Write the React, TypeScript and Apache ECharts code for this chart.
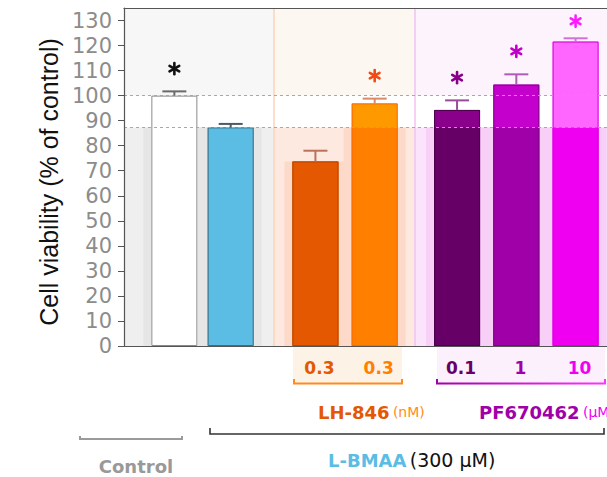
import React, { useEffect, useRef } from "react";
import * as echarts from "echarts";

// ---- data ----
const categories = ["Control", "L-BMAA", "LH-846 0.3 nM (a)", "LH-846 0.3 nM (b)", "PF670462 0.1 µM", "PF670462 1 µM", "PF670462 10 µM"];
const xPositions = [1, 1.95, 3.38, 4.38, 5.77, 6.77, 7.77];
const viability = [100, 87.3, 73.7, 96.9, 94.3, 104.4, 121.6];
const errorTop = [101.7, 88.7, 78.0, 98.8, 98.1, 108.5, 122.9];
const asteriskY: (number | null)[] = [110.8, null, null, 108.0, 107.2, 117.7, 129.7];
const doseLabels = ["", "", "0.3", "0.3", "0.1", "1", "10"];
const yTicks = [0, 10, 20, 30, 40, 50, 60, 70, 80, 90, 100, 110, 120, 130];
const controlLevel = 100;
const bmaaLevel = 87.3;
const groupBounds = [0.15, 2.667, 5.05, 8.3];
const yMax = 135;

// ---- styles ----
const groupOf = [0, 0, 1, 1, 2, 2, 2];
const lowerColors = ["#ffffff", "#5bbde4", "#e35800", "#ff8000", "#660066", "#a000a8", "#f000f0"];
const upperColors = ["#ffffff", "#5bbde4", "#e35800", "#ff9900", "#8b008b", "#c400cc", "#ff66ff"];
const borderColors = ["#8a8a8a", "#3b6f86", "#b84700", "#ff6a00", "#4a004a", "#800088", "#d400d8"];
const errorColors = ["#6a6a6a", "#4a5a66", "#b8735a", "#d98a66", "#9a4a9a", "#b05ab8", "#d070d8"];
const starColors = ["#111111", "", "", "#f24a14", "#880088", "#c000c8", "#ff1aff"];
const regionTop = ["#f7f7f7", "#fdf7f1", "#fdf3fd"];
const regionBottom = ["#efefef", "#fde9e0", "#fbe4fb"];
const bandColors = ["#e6e6e6", "#fdd9c9", "#f7cff7"];
const boundaryColors = ["#fbd3b8", "#efc3ef"];

const SANS = '"DejaVu Sans"';

export default function App() {
  const ref = useRef<HTMLDivElement>(null);
  useEffect(() => {
    if (!ref.current) return;
    const chart = echarts.init(ref.current, null, { renderer: "svg" });

    const barData = (vals: number[], colors: string[]) =>
      xPositions.map((x, i) => ({ value: [x, vals[i]], itemStyle: { color: colors[i] } }));

    const option: any = {
      animation: false,
      grid: { left: 124, top: 8, width: 489, height: 338, show: false },
      xAxis: [
        {
          type: "value", min: groupBounds[0], max: groupBounds[3], position: "bottom", z: 10,
          axisLine: { show: true, lineStyle: { color: "#555", width: 1.2 } },
          axisTick: { show: false }, axisLabel: { show: false }, splitLine: { show: false },
        },
        {
          type: "value", min: groupBounds[0], max: groupBounds[3], position: "top", z: 10,
          axisLine: { show: true, lineStyle: { color: "#555", width: 1.2 } },
          axisTick: { show: false }, axisLabel: { show: false }, splitLine: { show: false },
        },
      ],
      yAxis: {
        type: "value", min: 0, max: yMax, z: 10,
        name: "Cell viability (% of control)",
        nameLocation: "middle", nameGap: 62, nameRotate: 90,
        nameTextStyle: { fontSize: 25, color: "#111", fontFamily: '"Liberation Sans"', padding: [0, 10, 0, 0] },
        axisLine: { show: true, lineStyle: { color: "#555", width: 1.2 } },
        axisTick: { show: true, inside: false, length: 6, lineStyle: { color: "#555" }, customValues: yTicks },
        axisLabel: { show: true, customValues: yTicks, color: "#8c8c8c", fontSize: 21, fontFamily: SANS, margin: 12 },
        splitLine: { show: false },
      },
      series: [
        {
          name: "background", type: "line", data: [], z: 0, silent: true,
          markArea: {
            silent: true,
            data: [0, 1, 2].flatMap((g) => [
              [
                { xAxis: groupBounds[g], yAxis: controlLevel, itemStyle: { color: regionTop[g] } },
                { xAxis: groupBounds[g + 1], yAxis: yMax },
              ],
              [
                { xAxis: groupBounds[g], yAxis: 0, itemStyle: { color: regionBottom[g] } },
                { xAxis: groupBounds[g + 1], yAxis: bmaaLevel },
              ],
            ]),
          },
          markLine: {
            silent: true, symbol: "none", label: { show: false },
            data: [1, 2].map((g) => ({ xAxis: groupBounds[g], lineStyle: { color: boundaryColors[g - 1], width: 1.5, type: "solid" } })),
          },
        },
        {
          name: "bands", type: "custom", z: 1, silent: true,
          data: xPositions.map((x, i) => [x, Math.min(viability[i], bmaaLevel)]),
          renderItem: (params: any, api: any) => {
            const i = params.dataIndex;
            const top = api.coord([api.value(0), api.value(1)]);
            const base = api.coord([api.value(0), 0]);
            return {
              type: "rect",
              shape: { x: top[0] - 31, y: top[1], width: 62, height: base[1] - top[1] },
              style: { fill: bandColors[groupOf[i]] },
            };
          },
        },
        {
          name: "reference", type: "line", data: [], z: 2, silent: true,
          markLine: {
            silent: true, symbol: "none", label: { show: false },
            lineStyle: { color: "#a8a8a8", width: 1.2, type: [3, 3] },
            data: [{ yAxis: controlLevel }, { yAxis: bmaaLevel }],
          },
        },
        {
          name: "viability", type: "bar", z: 3, barWidth: 46, barGap: "-100%",
          data: barData(viability, upperColors),
        },
        {
          name: "viability (below L-BMAA level)", type: "bar", z: 3, barWidth: 46, barGap: "-100%",
          data: barData(viability.map((v) => Math.min(v, bmaaLevel)), lowerColors),
        },
        {
          name: "outline", type: "bar", z: 4, barWidth: 46, barGap: "-100%", silent: true,
          data: xPositions.map((x, i) => ({
            value: [x, viability[i]],
            itemStyle: { color: "transparent", borderColor: borderColors[i], borderWidth: 1 },
          })),
        },
        {
          name: "SEM", type: "custom", z: 5, silent: true,
          data: xPositions.map((x, i) => [x, viability[i], errorTop[i]]),
          renderItem: (params: any, api: any) => {
            const i = params.dataIndex;
            const b = api.coord([api.value(0), api.value(1)]);
            const t = api.coord([api.value(0), api.value(2)]);
            const style = { stroke: errorColors[i], lineWidth: 2 };
            return {
              type: "group",
              children: [
                { type: "line", shape: { x1: b[0], y1: b[1], x2: t[0], y2: t[1] }, style },
                { type: "line", shape: { x1: t[0] - 12, y1: t[1], x2: t[0] + 12, y2: t[1] }, style },
              ],
            };
          },
        },
        {
          name: "significance", type: "custom", z: 6, silent: true,
          data: xPositions.map((x, i) => [x, asteriskY[i] ?? NaN, i]).filter((d) => !isNaN(d[1] as number)),
          renderItem: (params: any, api: any) => {
            const i = api.value(2);
            const c = api.coord([api.value(0), api.value(1)]);
            const r = 5.6;
            return {
              type: "group",
              children: [90, 30, 150].map((a) => {
                const rad = (a * Math.PI) / 180;
                return {
                  type: "line",
                  shape: { x1: c[0] + r * Math.cos(rad), y1: c[1] - r * Math.sin(rad), x2: c[0] - r * Math.cos(rad), y2: c[1] + r * Math.sin(rad) },
                  style: { stroke: starColors[i], lineWidth: 2.6, lineCap: "round" },
                };
              }),
            };
          },
        },
        {
          name: "dose", type: "custom", z: 6, silent: true, clip: false,
          data: xPositions.map((x, i) => [x, 0, i]).filter((d) => doseLabels[d[2]] !== ""),
          renderItem: (params: any, api: any) => {
            const i = api.value(2);
            const p = api.coord([api.value(0), 0]);
            return {
              type: "text",
              x: p[0] + 4, y: p[1] + 22,
              style: {
                text: doseLabels[i], fill: lowerColors[i],
                fontSize: 17, fontWeight: "bold", fontFamily: SANS,
                align: "center", verticalAlign: "middle",
              },
            };
          },
        },
      ],
      graphic: [
        { type: "rect", shape: { x: 293, y: 347, width: 109, height: 36 }, style: { fill: "#fdf2e6" }, z: 0 },
        { type: "rect", shape: { x: 437, y: 347, width: 168, height: 36 }, style: { fill: "#fdf0fd" }, z: 0 },
        { type: "polyline", shape: { points: [[294, 379], [294, 383.5], [402, 383.5], [402, 379]] }, style: { stroke: "#ff8c1a", lineWidth: 2, fill: "none" } },
        {
          type: "polyline", shape: { points: [[437, 379], [437, 383.5], [605, 383.5], [605, 379]] },
          style: {
            fill: "none", lineWidth: 2,
            stroke: { type: "linear", x: 0, y: 0, x2: 1, y2: 0, colorStops: [{ offset: 0, color: "#a000a8" }, { offset: 1, color: "#ff33ff" }] },
          },
        },
        {
          type: "text", x: 318, y: 412,
          style: {
            text: "{a|LH-846} {b|(nM)}", verticalAlign: "middle", align: "left",
            rich: {
              a: { fontSize: 18, fontWeight: "bold", fill: "#e35800", fontFamily: SANS },
              b: { fontSize: 14, fill: "#ff8c1a", fontFamily: SANS },
            },
          },
        },
        {
          type: "text", x: 479, y: 412,
          style: {
            text: "{a|PF670462} {b|(µM)}", verticalAlign: "middle", align: "left",
            rich: {
              a: { fontSize: 18, fontWeight: "bold", fill: "#a000a8", fontFamily: SANS },
              b: { fontSize: 14, fill: "#f000f0", fontFamily: SANS },
            },
          },
        },
        { type: "polyline", shape: { points: [[210, 428], [210, 434], [604, 434], [604, 428]] }, style: { stroke: "#333", lineWidth: 1.6, fill: "none" } },
        { type: "polyline", shape: { points: [[80, 436], [80, 439], [182, 439], [182, 436]] }, style: { stroke: "#9a9a9a", lineWidth: 2, fill: "none" } },
        {
          type: "text", x: 328, y: 460,
          style: {
            text: "{a|L-BMAA} {b|(300 µM)}", verticalAlign: "middle", align: "left",
            rich: {
              a: { fontSize: 18, fontWeight: "bold", fill: "#5bbde4", fontFamily: SANS },
              b: { fontSize: 19, fill: "#111", fontFamily: SANS },
            },
          },
        },
        {
          type: "text", x: 136, y: 466,
          style: { text: "Control", fontSize: 18, fontWeight: "bold", fill: "#999", fontFamily: SANS, align: "center", verticalAlign: "middle" },
        },
      ],
    };
    chart.setOption(option);
    return () => chart.dispose();
  }, []);
  return <div ref={ref} style={{ position: "absolute", left: 0, top: 0, width: 607, height: 477 }} />;
}
